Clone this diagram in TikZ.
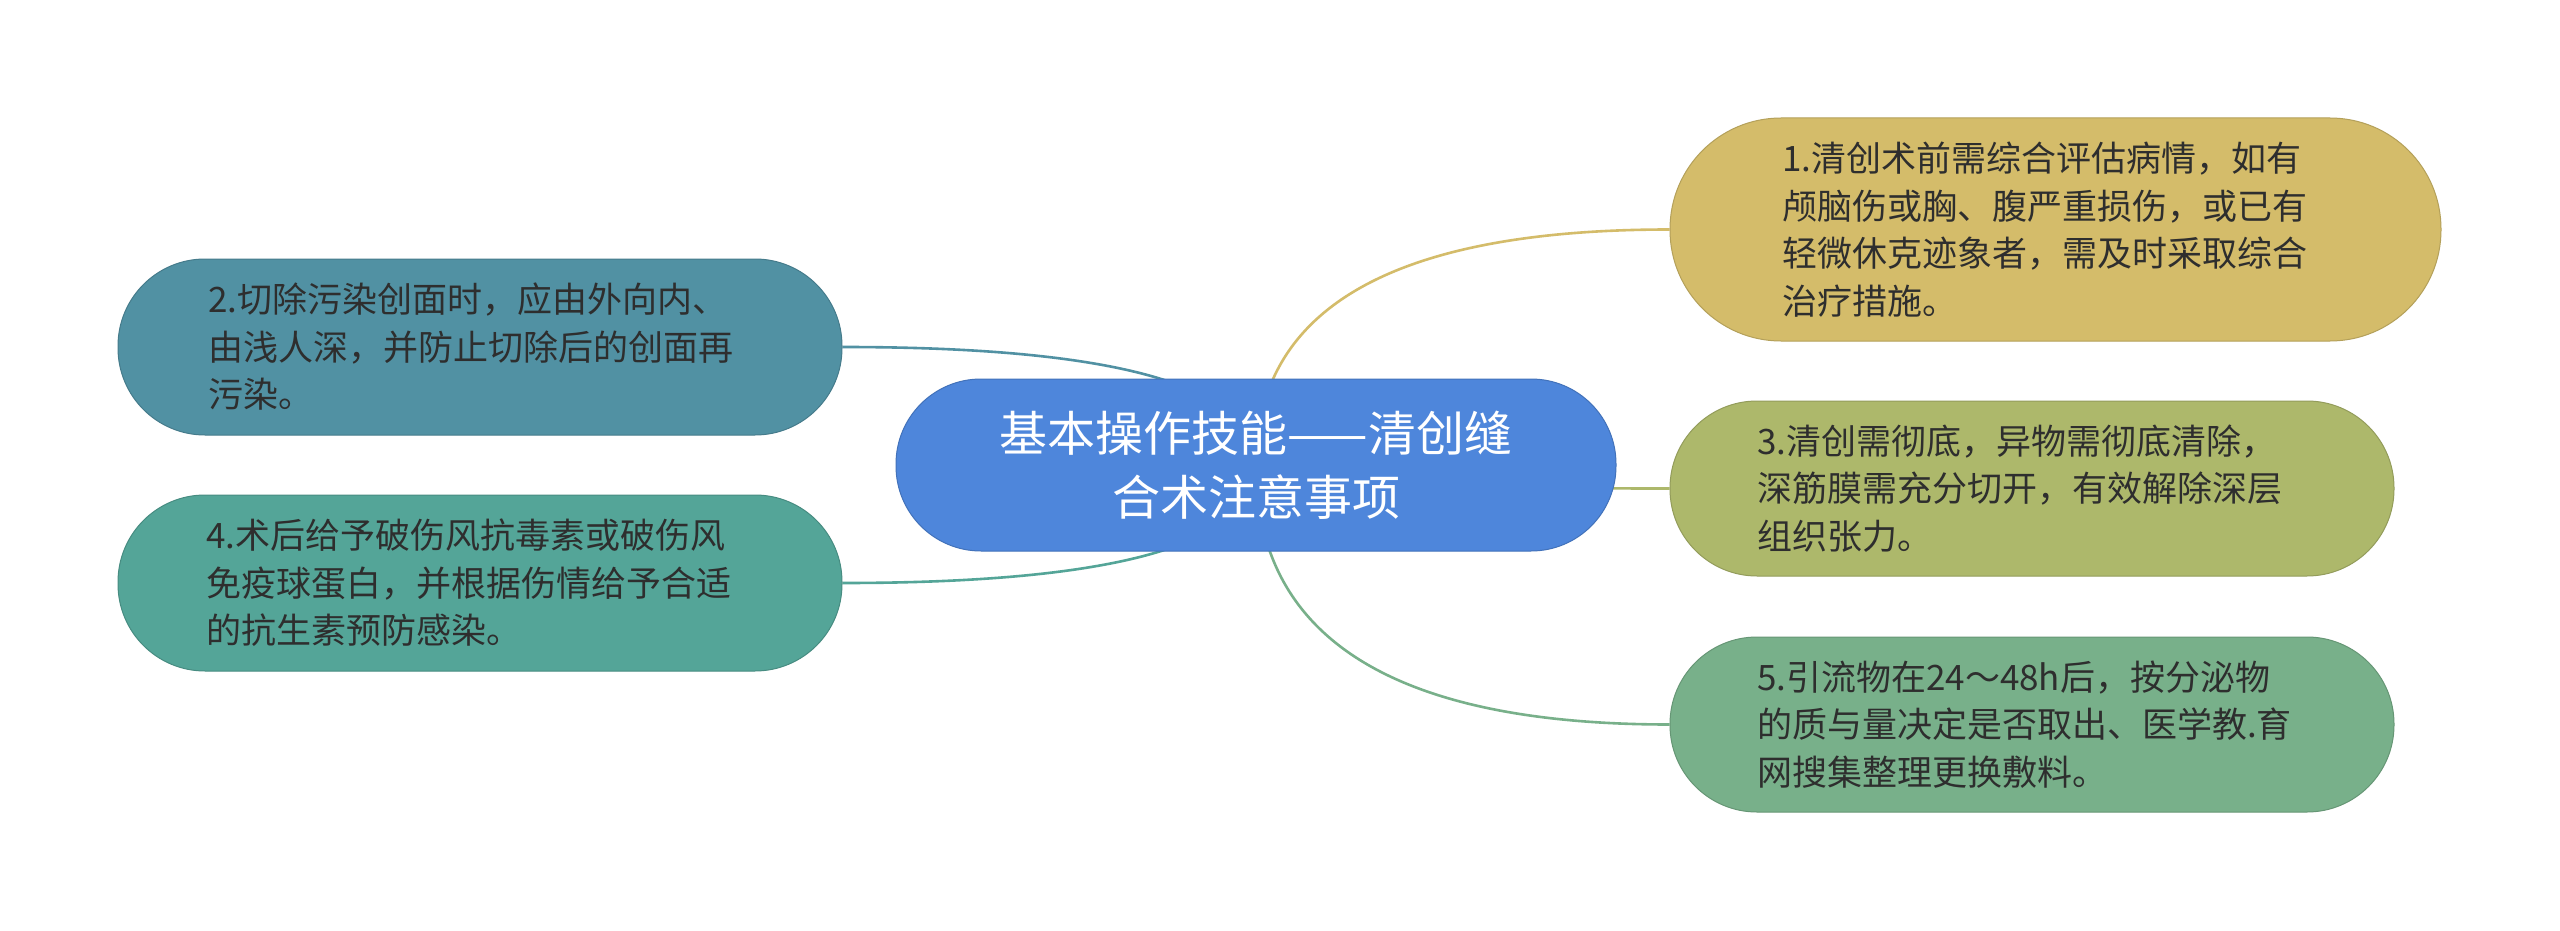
\documentclass[tikz,border=0pt]{standalone}
\usepackage{fontspec}
\newfontfamily\cjk{Noto Sans CJK SC}
\usetikzlibrary{calc}
\pgfdeclarelayer{bg}
\pgfsetlayers{bg,main}
\definecolor{cmain}{HTML}{4E86DB}
\definecolor{cone}{HTML}{D4BC6A}
\definecolor{ctwo}{HTML}{5191A3}
\definecolor{cthree}{HTML}{ADB86B}
\definecolor{cfour}{HTML}{54A598}
\definecolor{cfive}{HTML}{78B08A}
\definecolor{ctext}{HTML}{2E2E2E}
\tikzset{
  pill/.style={draw=#1!85!black, line width=1pt, fill=#1, inner xsep=0pt, inner ysep=0pt,
    align=left, text=ctext, font=\cjk\fontsize{35pt}{47.5pt}\selectfont},
  link/.style={draw=#1, line width=2.6pt},
}
\begin{document}
\begin{tikzpicture}[x=1pt,y=-1pt]
\useasboundingbox (0,0) rectangle (2560,931);

\node[draw=cmain!85!black, line width=1pt, fill=cmain, text=white, align=center,
  font=\cjk\fontsize{48pt}{64pt}\selectfont,
  minimum width=720pt, minimum height=172pt, rounded corners=85pt] (c) at (1256,465)
  {基本操作技能——清创缝\\合术注意事项};

\node[pill=cone, minimum width=771pt, minimum height=223pt, rounded corners=111pt,
  text width=547pt] (b1) at (2055.5,229.5)
  {1.清创术前需综合评估病情，如有\\颅脑伤或胸、腹严重损伤，或已有\\轻微休克迹象者，需及时采取综合\\治疗措施。};

\node[pill=ctwo, minimum width=724pt, minimum height=176pt, rounded corners=87pt,
  text width=544pt] (b2) at (480,347)
  {2.切除污染创面时，应由外向内、\\由浅人深，并防止切除后的创面再\\污染。};

\node[pill=cthree, minimum width=724pt, minimum height=175pt, rounded corners=87pt,
  text width=549pt] (b3) at (2032,488.5)
  {3.清创需彻底，异物需彻底清除，\\深筋膜需充分切开，有效解除深层\\组织张力。};

\node[pill=cfour, minimum width=724pt, minimum height=176pt, rounded corners=87pt,
  text width=548pt] (b4) at (480,583)
  {4.术后给予破伤风抗毒素或破伤风\\免疫球蛋白，并根据伤情给予合适\\的抗生素预防感染。};

\node[pill=cfive, minimum width=724pt, minimum height=175pt, rounded corners=87pt,
  text width=550pt] (b5) at (2032,724.5)
  {5.引流物在24～48h后，按分泌物\\的质与量决定是否取出、医学教.育\\网搜集整理更换敷料。};

\coordinate (q1) at (c.center|-b1.west);
\coordinate (q2) at (c.center|-b2.east);
\coordinate (q3) at (c.center|-b3.west);
\coordinate (q4) at (c.center|-b4.east);
\coordinate (q5) at (c.center|-b5.west);

\begin{pgfonlayer}{bg}
\fill[white] (0,0) rectangle (2560,931);
\draw[link=cone] (c.center) .. controls ($(c.center)!0.667!(q1)$) and ($(b1.west)!0.667!(q1)$) .. (b1.west);
\draw[link=ctwo] (c.center) .. controls ($(c.center)!0.667!(q2)$) and ($(b2.east)!0.667!(q2)$) .. (b2.east);
\draw[link=cthree] (c.center) .. controls ($(c.center)!0.667!(q3)$) and ($(b3.west)!0.667!(q3)$) .. (b3.west);
\draw[link=cfour] (c.center) .. controls ($(c.center)!0.667!(q4)$) and ($(b4.east)!0.667!(q4)$) .. (b4.east);
\draw[link=cfive] (c.center) .. controls ($(c.center)!0.667!(q5)$) and ($(b5.west)!0.667!(q5)$) .. (b5.west);
\end{pgfonlayer}
\end{tikzpicture}
\end{document}
